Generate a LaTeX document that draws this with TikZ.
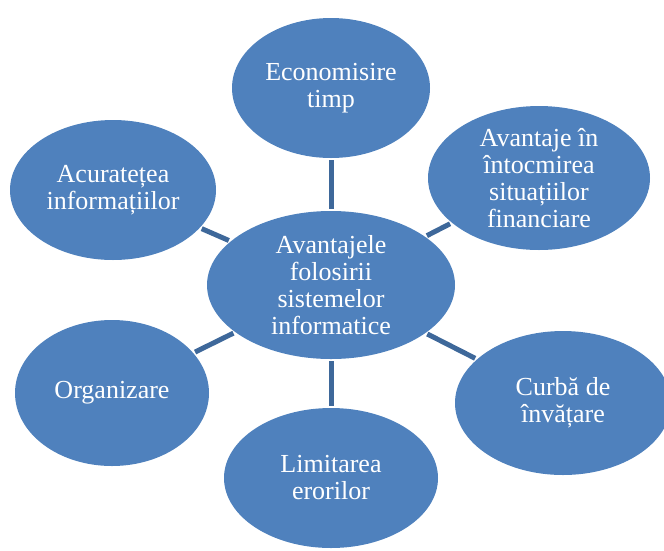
\documentclass[tikz,border=0pt]{standalone}
\usepackage{fontspec}
\setmainfont{Liberation Serif}
\usetikzlibrary{shapes.geometric}
\definecolor{bubblefill}{RGB}{79,129,189}
\definecolor{linkcol}{RGB}{62,104,154}
\tikzset{
  bubble/.style={ellipse, fill=bubblefill, draw=none, text=white, align=center,
    inner sep=0pt, font=\fontsize{26}{27}\selectfont},
  link/.style={draw=linkcol, line width=5pt, shorten <=2pt, shorten >=2pt}
}
\begin{document}
\begin{tikzpicture}[x=1pt,y=-1pt]
\useasboundingbox (0,0) rectangle (664,550);
\clip (0,0) rectangle (664,550);
\node[bubble, minimum width=248pt, minimum height=148pt] (c) at (331,285) {Avantajele\\folosirii\\sistemelor\\informatice};
\node[bubble, minimum width=198pt, minimum height=140pt] (t) at (331,88) {Economisire\\timp};
\node[bubble, minimum width=222pt, minimum height=144pt] (tr) at (539,178) {Avantaje în\\întocmirea\\situațiilor\\financiare};
\node[bubble, minimum width=216pt, minimum height=144pt] (br) at (563,403) {Curbă de\\învățare};
\node[bubble, minimum width=214pt, minimum height=140pt] (b) at (331,478) {Limitarea\\erorilor};
\node[bubble, minimum width=194pt, minimum height=146pt] (bl) at (112,393) {Organizare};
\node[bubble, minimum width=206pt, minimum height=140pt] (tl) at (113,190) {Acuratețea\\informațiilor};
\draw[link] (c) -- (t);
\draw[link] (c) -- (tr);
\draw[link] (c) -- (br);
\draw[link] (c) -- (b);
\draw[link] (c) -- (bl);
\draw[link] (c) -- (tl);
\end{tikzpicture}
\end{document}
